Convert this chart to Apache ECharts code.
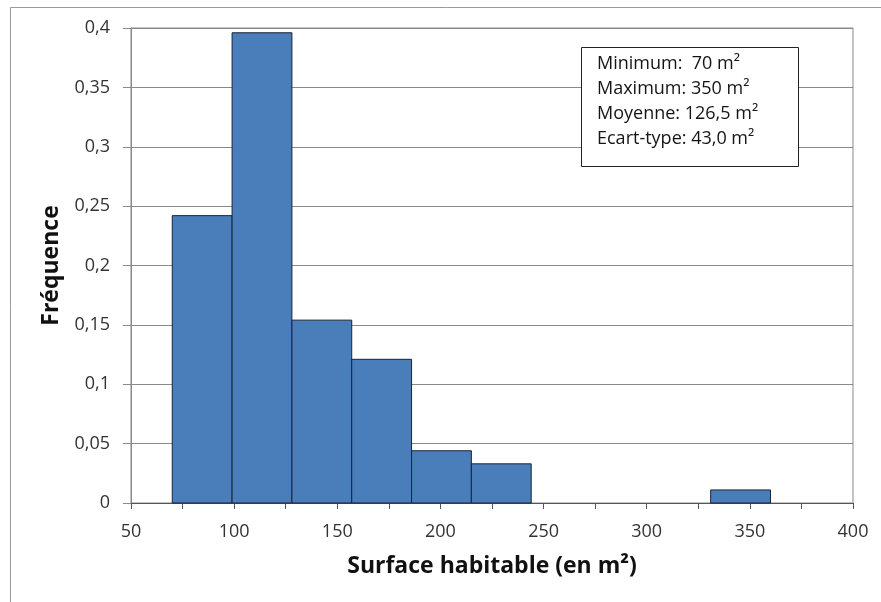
<!DOCTYPE html>
<html>
<head>
<meta charset="utf-8">
<script src="https://cdn.jsdelivr.net/npm/echarts@6/dist/echarts.min.js"></script>
<style>
html,body{margin:0;padding:0;background:#fff;}
#chart{width:881px;height:602px;}
</style>
</head>
<body>
<div id="chart"></div>
<script>
// ---- data ----
const binStarts = [70, 99, 128, 157, 186, 215, 244, 273, 302, 331];
const binEnds   = [99, 128, 157, 186, 215, 244, 273, 302, 331, 360];
const frequencies = [0.242, 0.396, 0.154, 0.121, 0.044, 0.033, 0, 0, 0, 0.011];
const statLines = ['Minimum:  70 m²', 'Maximum: 350 m²', 'Moyenne: 126,5 m²', 'Ecart-type: 43,0 m²'];
const xTitle = 'Surface habitable (en m²)';
const yTitle = 'Fréquence';

const rows = binStarts.map((s, i) => [s, binEnds[i], frequencies[i]]);

const FONT = '"Open Sans", Lato, sans-serif';
const GRAY = '#898989';

const chart = echarts.init(document.getElementById('chart'), null, {renderer: 'canvas'});

const statTexts = statLines.map((t, i) => ({
  type: 'text',
  x: 597,
  y: 64 + i * 25,
  z: 11,
  style: {text: t, font: '18px ' + FONT, fill: '#151515', verticalAlign: 'middle', align: 'left'}
}));

chart.setOption({
  backgroundColor: '#fff',
  animation: false,
  grid: {
    left: 131, right: 28, top: 28, bottom: 99,
    show: true, borderColor: GRAY, borderWidth: 1, backgroundColor: '#fff',
    containLabel: false, outerBoundsMode: 'none'
  },
  xAxis: {
    type: 'value', min: 50, max: 400, interval: 50,
    name: xTitle, nameLocation: 'middle', nameGap: 52,
    nameTextStyle: {fontFamily: FONT, fontWeight: 'bold', fontSize: 23, color: '#111', lineHeight: 23},
    axisLine: {show: true, onZero: false, lineStyle: {color: '#555', width: 1}},
    axisTick: {show: true, length: 6, inside: false, lineStyle: {color: '#555'}},
    minorTick: {show: true, splitNumber: 2, length: 6, lineStyle: {color: '#555'}},
    splitLine: {show: false},
    axisLabel: {fontFamily: FONT, fontSize: 18, color: '#333', margin: 20, lineHeight: 18}
  },
  yAxis: {
    type: 'value', min: 0, max: 0.4, interval: 0.05,
    name: yTitle, nameLocation: 'middle', nameGap: 68, nameRotate: 90,
    nameTextStyle: {fontFamily: FONT, fontWeight: 'bold', fontSize: 23, color: '#111', lineHeight: 23},
    axisLine: {show: true, lineStyle: {color: GRAY}},
    axisTick: {show: true, length: 8, inside: false, lineStyle: {color: GRAY}},
    splitLine: {show: true, lineStyle: {color: GRAY, width: 1}},
    axisLabel: {
      fontFamily: FONT, fontSize: 18, color: '#333', margin: 21,
      formatter: v => String(+v.toFixed(2)).replace('.', ',')
    }
  },
  series: [{
    type: 'custom',
    data: rows,
    encode: {x: [0, 1], y: 2},
    renderItem: function (params, api) {
      const v = api.value(2);
      if (!v) return null;
      const p0 = api.coord([api.value(0), v]);
      const p1 = api.coord([api.value(1), 0]);
      return {
        type: 'rect',
        shape: {x: p0[0], y: p0[1], width: p1[0] - p0[0], height: p1[1] - p0[1]},
        style: {fill: '#4a7ebb', stroke: '#1b2333', lineWidth: 1}
      };
    },
    z: 3
  }],
  graphic: [
    {type: 'rect', left: 8, top: 5, z: -10, silent: true,
     shape: {width: 900, height: 700}, style: {fill: 'none', stroke: '#9a9a9a', lineWidth: 1}},
    {type: 'rect', left: 581, top: 47, z: 10,
     shape: {width: 217, height: 119}, style: {fill: '#fff', stroke: '#222', lineWidth: 1}}
  ].concat(statTexts)
});
</script>
</body>
</html>
